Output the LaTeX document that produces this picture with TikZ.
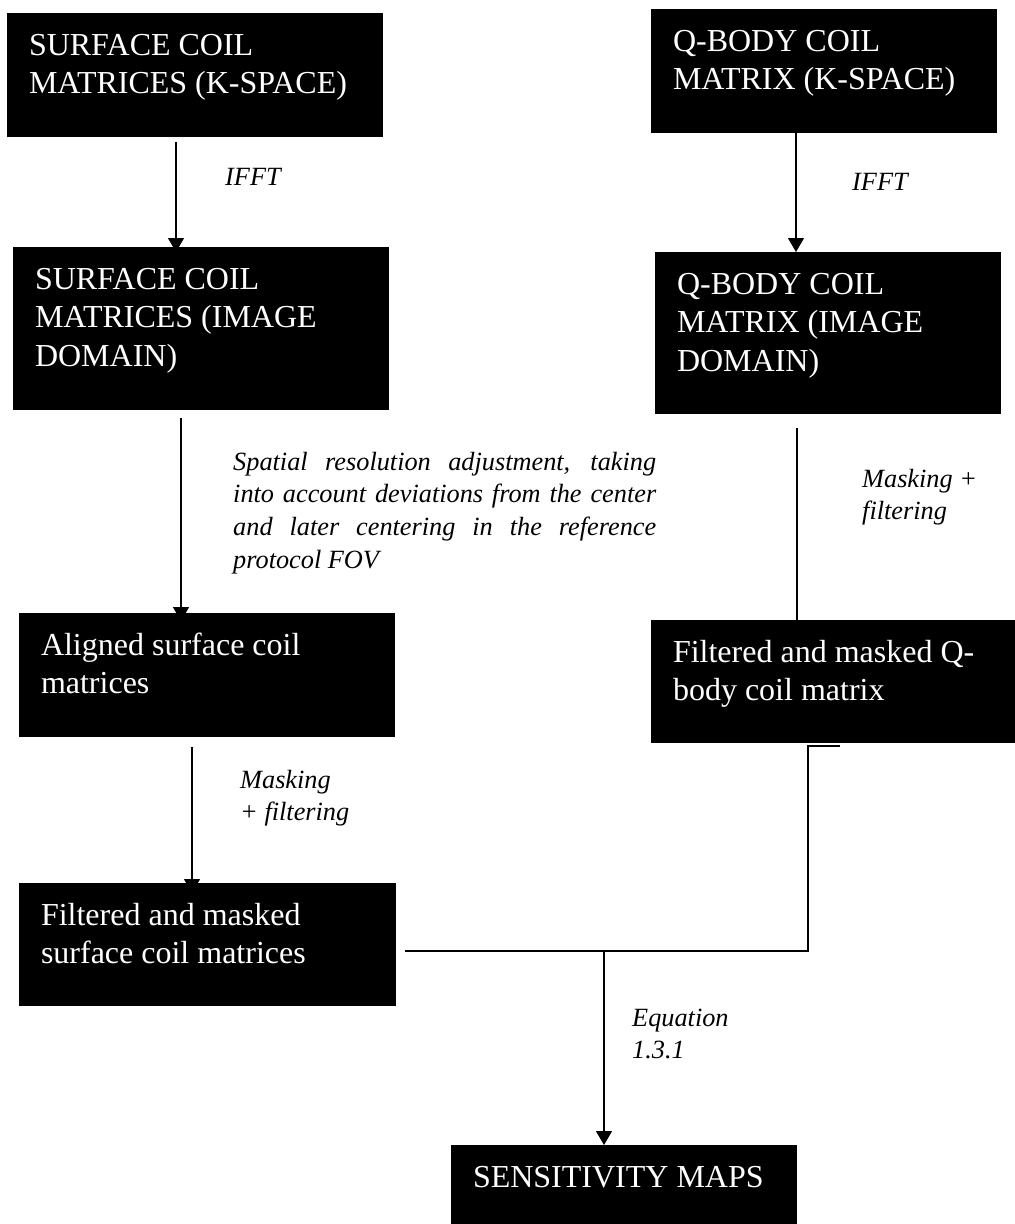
\documentclass[tikz,border=0pt]{standalone}
\usepackage{fontspec}
\setmainfont{Liberation Serif}
\usetikzlibrary{arrows.meta}

% fonts: box captions and italic step labels
\newcommand\boxfont{\fontsize{32}{38.5}\selectfont}
\newcommand\lblfont{\fontsize{26.3}{32.7}\selectfont\itshape}

% top-aligned box body: width, height, text
\newcommand\boxbody[3]{\parbox[t][#2][t]{#1}{\boxfont\raggedright\rule{0pt}{42pt}#3}}
% multi-line label, baseline on the first line
\newcommand\lbllines[2]{\parbox[t]{#1}{\lblfont\raggedright #2}}

\begin{document}
\begin{tikzpicture}[x=1pt, y=-1pt,
  blk/.style={anchor=north west, fill=black, text=white, inner xsep=22pt,
              inner ysep=0pt, outer sep=0pt, font=\boxfont},
  lbl/.style={anchor=base west, inner sep=0pt, font=\lblfont},
  arr/.style={line width=1.2pt, -{Triangle[width=16pt,length=14pt]}},
  link/.style={line width=1.2pt}]
\useasboundingbox (0,0) rectangle (1015,1224);

% surface coil branch
\node[blk] (k1) at (7,13)   {\boxbody{332pt}{124pt}{SURFACE COIL\\MATRICES (K-SPACE)}};
\node[blk] (k2) at (13,247) {\boxbody{332pt}{163pt}{SURFACE COIL\\MATRICES (IMAGE\\DOMAIN)}};
\node[blk] (k3) at (19,613) {\boxbody{332pt}{124pt}{Aligned surface coil\\matrices}};
\node[blk] (k4) at (19,883) {\boxbody{333pt}{123pt}{Filtered and masked\\surface coil matrices}};

% Q-body coil branch
\node[blk] (q1) at (651,9)   {\boxbody{302pt}{124pt}{Q-BODY COIL\\MATRIX (K-SPACE)}};
\node[blk] (q2) at (655,252) {\boxbody{302pt}{162pt}{Q-BODY COIL\\MATRIX (IMAGE\\DOMAIN)}};
\node[blk] (q3) at (651,620) {\boxbody{320pt}{123pt}{Filtered and masked Q-\\body coil matrix}};

% result
\node[blk] (sm) at (451,1145) {\boxbody{302pt}{79pt}{SENSITIVITY MAPS}};

% step labels
\node[lbl] (t1) at (225,185) {IFFT};
\node[lbl] (t2) at (852,190) {IFFT};
\node[lbl] (t3) at (233,470) {\parbox[t]{423pt}{\lblfont Spatial resolution adjustment, taking\linebreak
  into account deviations from the center\linebreak
  and later centering in the reference\linebreak
  protocol FOV}};
\node[lbl] (t4) at (862,487) {\lbllines{150pt}{Masking +\\filtering}};
\node[lbl] (t5) at (240,788) {\lbllines{150pt}{Masking\\+ filtering}};
\node[lbl] (t6) at (632,1026) {\lbllines{150pt}{Equation\\1.3.1}};

% connectors
\draw[arr] ([xshift=-19pt,yshift=-5pt]k1.south) -- ([xshift=-19pt,yshift=-5pt]k1.south |- k2.north);
\draw[arr] ([xshift=-20pt,yshift=-8pt]k2.south) -- ([xshift=-20pt,yshift=-8pt]k2.south |- k3.north);
\draw[arr] ([xshift=-15pt,yshift=-10pt]k3.south) -- ([xshift=-15pt,yshift=-10pt]k3.south |- k4.north);
\draw[arr] ([xshift=-28pt]q1.south) -- ([xshift=-28pt]q1.south |- q2.north);
\draw[arr] ([xshift=-31pt,yshift=-14pt]q2.south) -- ([xshift=-31pt,yshift=-14pt]q2.south |- q3.north);

% joining both filtered results
\draw[link] ([xshift=7pt,yshift=-3pt]q3.south) -- ++(-32pt,0pt) |- ([xshift=9pt,yshift=-6.5pt]k4.east);
\coordinate (jn) at (604,951);
\draw[arr] (jn) -- (jn |- sm.north);
\end{tikzpicture}
\end{document}
